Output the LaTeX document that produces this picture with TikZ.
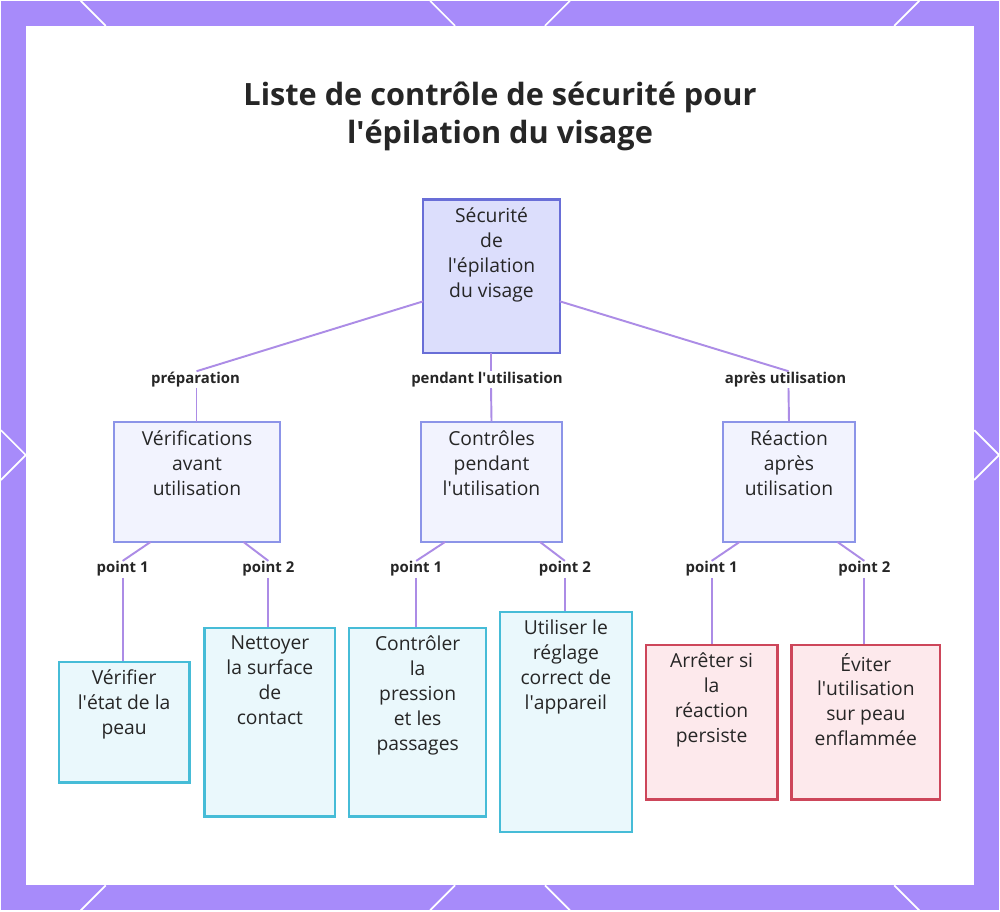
\documentclass[tikz,border=0pt]{standalone}
\usepackage{fontspec}
\setmainfont{Open Sans}
\newcommand\qq{\textquotesingle}
\definecolor{frame}{RGB}{167,139,250}
\definecolor{edgec}{RGB}{172,140,230}
\definecolor{cyanbd}{RGB}{70,188,215}
\definecolor{cyanfl}{RGB}{234,248,252}
\definecolor{rootbd}{RGB}{105,110,215}
\definecolor{rootfl}{RGB}{220,222,252}
\definecolor{midbd}{RGB}{140,148,232}
\definecolor{midfl}{RGB}{242,243,254}
\definecolor{redbd}{RGB}{205,70,90}
\definecolor{redfl}{RGB}{253,233,236}
\begin{document}
\begin{tikzpicture}[x=0.02cm,y=-0.02cm,
 box/.style={draw,line width=1.2pt,inner sep=0pt},
 txt/.style={align=center,font=\fontsize{11}{14.2}\selectfont,text=black!85,anchor=north,inner sep=0pt},
 root/.style={box,fill=rootfl,draw=rootbd},
 mid/.style={box,fill=midfl,draw=midbd},
 cyanb/.style={box,fill=cyanfl,draw=cyanbd},
 redb/.style={box,fill=redfl,draw=redbd},
 lab/.style={font=\bfseries\fontsize{8.5}{10}\selectfont,text=black!85,inner sep=1pt},
 edge/.style={draw=edgec,line width=1.1pt}]
\fill[frame] (0,0) rectangle (1000,911);
\foreach \a/\b/\c/\d in {80/0/105/25, 430/0/455/25, 545/25/570/0, 895/25/920/0, 0/430/25/455, 0/480/25/455, 975/430/1000/455, 975/480/1000/455, 80/911/105/886, 430/911/455/886, 545/886/570/911, 895/886/920/911}
  \draw[white,line width=1pt] (\a,\b)--(\c,\d);
\fill[white] (25,25) rectangle (975,886);
\useasboundingbox (0,0) rectangle (1000,911);
\node[font=\bfseries\fontsize{17.5}{21.5}\selectfont,align=center,text=black!85] (title) at (500,116) {Liste de contrôle de sécurité pour\\l\qq épilation du visage};
\newcommand\bx[7]{%
  \path[#1] (#3,#4) rectangle (#5,#6);
  \node[box,draw=none,minimum width={(#5-#3)*0.567pt},minimum height={(#6-#4)*0.567pt}] (#2) at ({(#3+#5)/2},{(#4+#6)/2}) {};
  \node[txt] (#2t) at ({(#3+#5)/2},#4+8) {#7};}
\bx{root}{r}{423}{199}{560}{353}{Sécurité\\de\\l\qq épilation\\du visage}
\bx{mid}{v}{113}{422}{280}{542}{Vérifications\\avant\\utilisation}
\bx{mid}{c}{421}{422}{562}{542}{Contrôles\\pendant\\l\qq utilisation}
\bx{mid}{a}{723}{422}{856}{542}{Réaction\\après\\utilisation}
\bx{cyanb}{l1}{58}{662}{189}{783}{Vérifier\\l\qq état de la\\peau}
\bx{cyanb}{l2}{204}{628}{335}{817}{Nettoyer\\la surface\\de\\contact}
\bx{cyanb}{l3}{349}{628}{486}{817}{Contrôler\\la\\pression\\et les\\passages}
\bx{cyanb}{l4}{500}{612}{632}{833}{Utiliser le\\réglage\\correct de\\l\qq appareil}
\bx{redb}{l5}{646}{645}{778}{800}{Arrêter si\\la\\réaction\\persiste}
\bx{redb}{l6}{792}{645}{941}{800}{Éviter\\l\qq utilisation\\sur peau\\enflammée}
\node[lab] (lv) at (195,379) {préparation};
\node[lab] (lc) at (487,379) {pendant l\qq utilisation};
\node[lab] (la) at (786,379) {après utilisation};
\draw[edge] (423,301) -- (196,371); \draw[edge] (196,388) -- (196,422);
\draw[edge] (491,353) -- (491,371); \draw[edge] (491,388) -- (c.north);
\draw[edge] (560,301) -- (789,371); \draw[edge] (789,388) -- (a.north);
\foreach \x/\px/\ln in {150/122/l1, 243/268/l2, 445/416/l3, 540/565/l4, 740/712/l5, 838/865/l6}{
  \draw[edge] (\x,542) -- (\px,561);
  \draw[edge] (\px,578) -- (\px,0 |- \ln.north);
}
\node[lab] at (122,569) {point 1}; \node[lab] at (268,569) {point 2};
\node[lab] at (416,569) {point 1}; \node[lab] at (565,569) {point 2};
\node[lab] at (712,569) {point 1}; \node[lab] at (865,569) {point 2};
\end{tikzpicture}
\end{document}
